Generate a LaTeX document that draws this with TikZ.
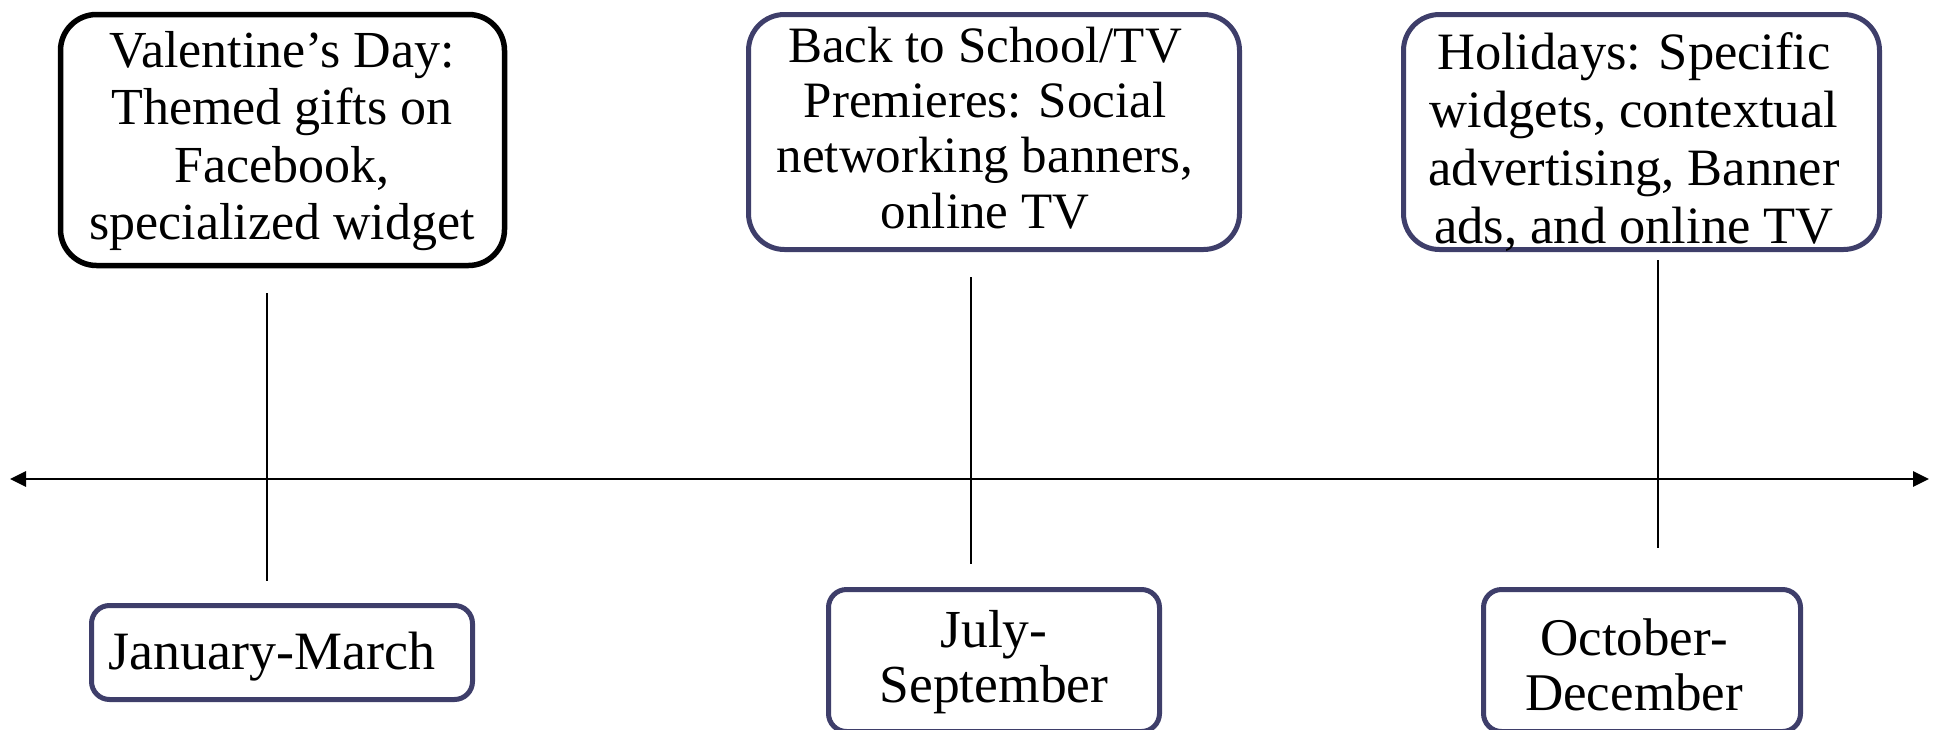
\documentclass[tikz,border=0pt]{standalone}
\usepackage{fontspec}
\setmainfont{Liberation Serif}
\usetikzlibrary{arrows.meta}
\definecolor{navy}{RGB}{62,62,106}
\begin{document}
\begin{tikzpicture}[x=1pt,y=-1pt,
  eventbox/.style={draw=navy, line width=5pt, rounded corners=36pt, fill=white, inner sep=0pt},
  periodbox/.style={draw=navy, line width=5pt, rounded corners=18pt, fill=white, inner sep=0pt},
  boxtext/.style={align=center, inner sep=0pt},
  vline/.style={line width=2.7pt, black},
  timeaxis/.style={line width=2.7pt, black, {Triangle[length=16pt,width=15pt]}-{Triangle[length=16pt,width=15pt]}}
]
\useasboundingbox (0,0) rectangle (1939,729);
\clip (0,0) rectangle (1939,729);

% event boxes
\node[eventbox, draw=black, line width=5.5pt, minimum width=444pt, minimum height=251pt] (e1) at (282.5,140) {};
\node[eventbox, minimum width=491pt, minimum height=235pt] (e2) at (994,132) {};
\node[eventbox, minimum width=476pt, minimum height=235pt] (e3) at (1641.5,132) {};
\node[boxtext, font=\fontsize{52}{57.3}\selectfont] (e1t) at (282,141)
  {Valentine’s Day:\\Themed gifts on\\Facebook,\\specialized widget};
\node[boxtext, font=\fontsize{51}{55.2}\selectfont] (e2t) at (985,128)
  {Back to School/TV\\Premieres: Social\\networking banners,\\online TV};
\node[boxtext, font=\fontsize{52.5}{58}\selectfont] (e3t) at (1634,142)
  {Holidays: Specific\\widgets, contextual\\advertising, Banner\\ads, and online TV};

% period boxes
\node[periodbox, minimum width=381pt, minimum height=94pt] (p1) at (282,652.5) {};
\node[periodbox, minimum width=331pt, minimum height=142pt] (p2) at (994,660.5) {};
\node[periodbox, minimum width=317pt, minimum height=142pt] (p3) at (1642,660.5) {};
\node[boxtext, font=\fontsize{54}{55.6}\selectfont] (p1t) at (272,657) {January-March};
\node[boxtext, font=\fontsize{53.5}{55.6}\selectfont] (p2t) at (994,662) {July-\\September};
\node[boxtext, font=\fontsize{53}{55.6}\selectfont] (p3t) at (1634,665) {October-\\December};

% stems
\coordinate (s1a) at (267,293);  \coordinate (s1b) at (267,581);
\coordinate (s2a) at (971,277);  \coordinate (s2b) at (971,564);
\coordinate (s3a) at (1658,260); \coordinate (s3b) at (1658,548);
\draw[vline] (s1a) -- (s1b);
\draw[vline] (s2a) -- (s2b);
\draw[vline] (s3a) -- (s3b);

% axis
\coordinate (axl) at (10,479);
\coordinate (axr) at (1929,479);
\draw[timeaxis] (axl) -- (axr);
\end{tikzpicture}
\end{document}
